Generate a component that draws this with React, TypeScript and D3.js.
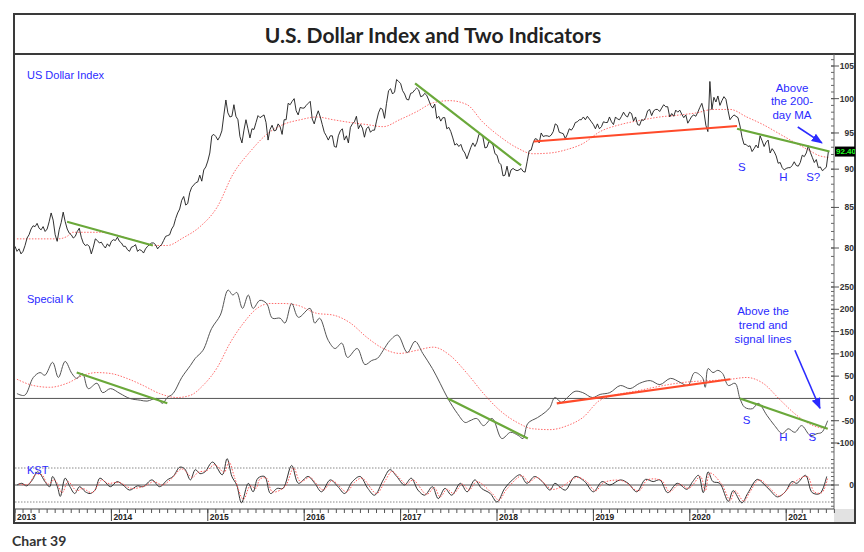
import React from 'react';
import * as d3 from 'd3';

// ---------- DATA ----------
// US Dollar Index, ~weekly (4 readings per month), starting Jan 2013
const dxy2013 = [80.2,79.6,79.9,79.3, 79.6,80.3,81.2,81.6, 82.3,82.7,82.6,83.0, 82.4,82.2,82.6,82.0, 82.3,83.2,84.3,83.4, 81.6,80.8,82.2,83.1, 84.4,83.2,82.3,81.8, 81.6,81.2,81.4,82.0, 82.4,81.3,80.6,80.3, 80.4,80.2,79.3,80.1, 81.1,80.9,80.6,80.7, 80.3,80.0,80.5,80.2];
const dxy2014 = [80.8,81.0,80.9,81.3, 80.8,80.6,80.2,80.2, 79.8,79.6,80.1,80.2, 80.4,79.6,79.8,79.7, 79.4,79.9,80.2,80.4, 80.6,80.6,80.4,79.9, 80.2,80.4,80.9,81.4, 81.5,81.6,82.3,82.7, 83.6,84.3,84.8,85.9, 86.4,85.3,85.5,86.9, 87.6,87.9,88.2,88.3, 89.2,88.4,89.9,90.3];
const dxy2015 = [91.1,92.2,94.6,94.8, 94.5,94.0,94.5,95.3, 97.6,99.8,97.9,97.3, 97.4,99.1,97.4,96.9, 94.5,93.6,95.4,96.9, 95.6,94.3,95.6,95.5, 96.5,97.5,97.2,97.4, 97.6,96.5,94.0,95.5, 96.1,95.3,95.4,96.3, 95.9,94.8,96.9,96.9, 99.3,99.1,99.6,100.0, 98.2,97.6,98.7,98.6];
const dxy2016 = [98.6,99.0,99.3,99.6, 97.0,96.3,97.4,98.2, 97.3,96.2,95.1,94.6, 94.0,94.6,94.6,93.1, 93.0,94.6,95.3,95.6, 94.0,94.6,93.6,95.8, 96.3,96.6,97.4,95.6, 96.2,95.7,94.4,95.6, 95.9,95.1,95.4,95.4, 96.7,97.9,98.6,98.4, 97.1,99.3,101.2,101.5, 100.7,101.0,102.9,102.6];
const dxy2017 = [102.3,101.2,100.7,99.9, 99.8,100.8,100.9,101.3, 101.6,101.3,100.3,100.4, 100.8,100.5,99.8,99.0, 98.6,99.2,97.1,97.4, 96.7,97.2,97.2,95.6, 95.8,95.2,94.3,93.3, 93.5,93.1,93.4,92.6, 92.2,91.4,92.2,93.0, 93.6,93.1,93.7,94.8, 94.8,94.4,92.9,93.0, 93.8,93.6,93.3,92.1];
const dxy2018 = [91.9,90.9,90.6,89.1, 89.2,90.4,89.0,89.9, 90.1,89.9,89.8,89.9, 90.1,89.7,89.6,91.0, 92.5,92.6,93.6,94.2, 94.1,93.6,95.0,94.5, 94.6,94.6,94.5,94.7, 95.2,96.3,96.1,95.1, 95.0,94.9,94.2,94.8, 95.6,95.4,95.8,96.5, 96.6,96.9,96.9,97.3, 96.9,97.4,97.0,96.6];
const dxy2019 = [96.2,95.6,96.3,95.6, 95.9,96.6,96.5,96.5, 97.3,96.6,96.2,97.3, 97.0,96.9,97.4,98.0, 97.5,97.3,98.0,97.8, 96.7,97.3,96.2,96.1, 96.9,96.8,97.2,98.2, 98.4,97.5,98.2,98.4, 98.4,98.1,98.6,99.1, 98.8,98.8,97.3,97.8, 97.4,98.3,98.0,98.3, 97.7,97.2,97.6,96.4];
const dxy2020 = [96.9,97.4,97.6,97.4, 98.0,98.7,99.3,98.1, 96.1,95.2,102.6,98.4, 100.2,99.5,100.4,99.0, 99.7,100.3,99.9,98.3, 96.9,97.3,97.6,97.4, 97.2,96.0,94.4,93.4, 93.4,93.1,93.2,92.4, 92.8,93.3,92.9,94.6, 93.9,93.1,93.7,94.0, 92.2,92.8,92.4,91.8, 90.8,90.9,90.2,89.9];
const dxy2021 = [90.1,90.2,90.2,90.5, 91.0,90.5,90.4,90.9, 91.9,91.7,92.2,93.2, 92.3,91.6,90.9,91.3, 90.2,90.3,89.8,90.0, 90.3,92.4];
const dxyStartYear = 2013;
const dxyPerYear = 48;

// 200-day moving average (decimal year, value)
const maYears = [2013.02,2013.45,2013.54,2013.60,2013.88,2014.22,2014.47,2014.58,2014.74,2014.92,2015.10,2015.26,2015.44,2015.61,2015.78,2015.96,2016.13,2016.30,2016.48,2016.65,2016.82,2016.99,2017.17,2017.34,2017.51,2017.69,2017.85,2018.03,2018.21,2018.37,2018.55,2018.73,2018.89,2019.07,2019.28,2019.48,2019.69,2019.90,2020.07,2020.24,2020.42,2020.59,2020.76,2020.94,2021.07,2021.22,2021.35,2021.44];
const maValues = [81.1,81.1,81.4,81.9,81.9,81.0,80.3,80.3,81.2,82.6,85.1,89.3,92.4,94.8,96.2,96.9,97.3,96.9,96.5,96.2,95.9,96.9,98.1,99.4,99.7,99.1,96.6,94.5,92.9,92.1,92.2,92.7,93.5,95.2,96.2,96.8,97.3,97.6,97.9,98.4,98.4,97.3,96.2,94.8,93.8,92.7,91.8,91.6];

// Special K (decimal year, value)
const skYears = [2013.02,2013.10,2013.19,2013.26,2013.31,2013.39,2013.45,2013.52,2013.59,2013.64,2013.70,2013.76,2013.85,2013.91,2013.99,2014.09,2014.19,2014.30,2014.37,2014.47,2014.53,2014.58,2014.64,2014.73,2014.82,2014.87,2014.95,2015.04,2015.13,2015.21,2015.26,2015.30,2015.36,2015.42,2015.47,2015.54,2015.61,2015.67,2015.75,2015.80,2015.87,2015.94,2016.06,2016.11,2016.16,2016.25,2016.32,2016.39,2016.45,2016.55,2016.63,2016.70,2016.76,2016.82,2016.89,2016.97,2017.07,2017.15,2017.23,2017.33,2017.41,2017.49,2017.59,2017.67,2017.72,2017.79,2017.86,2017.95,2018.05,2018.14,2018.22,2018.27,2018.32,2018.42,2018.50,2018.55,2018.60,2018.67,2018.73,2018.81,2018.89,2018.99,2019.07,2019.17,2019.28,2019.38,2019.48,2019.59,2019.69,2019.80,2019.90,2019.98,2020.05,2020.13,2020.16,2020.19,2020.24,2020.29,2020.34,2020.40,2020.47,2020.52,2020.57,2020.65,2020.71,2020.80,2020.88,2020.96,2021.02,2021.09,2021.16,2021.25,2021.32,2021.37,2021.43];
const skValues = [11,7,47,58,52,81,47,83,56,45,56,22,34,13,22,11,0,-4,-6,0,-11,2,11,47,74,90,108,157,187,243,232,238,202,232,202,220,213,180,180,169,213,182,202,169,180,130,112,124,92,112,76,85,90,108,130,142,103,128,101,67,34,0,-34,-54,-50,-45,-61,-45,-90,-76,-83,-90,-56,-43,-31,-20,2,-9,2,16,13,2,9,13,29,22,34,40,31,45,36,29,58,47,25,67,58,63,56,29,34,0,-20,-23,-11,-38,-61,-79,-68,-76,-61,-83,-79,-76,-50];
const skSignalYears = [2013.02,2013.19,2013.36,2013.54,2013.71,2013.85,2013.99,2014.16,2014.33,2014.50,2014.68,2014.82,2014.95,2015.10,2015.23,2015.37,2015.51,2015.65,2015.78,2015.93,2016.13,2016.30,2016.48,2016.65,2016.82,2016.99,2017.17,2017.34,2017.51,2017.69,2017.86,2018.03,2018.21,2018.37,2018.55,2018.73,2018.89,2019.07,2019.48,2019.90,2020.42,2020.59,2020.76,2020.94,2021.11,2021.28,2021.43];
const skSignalValues = [43,29,25,34,52,58,56,45,29,11,2,7,29,70,124,169,202,213,213,209,191,187,169,137,112,101,108,115,97,56,11,-27,-54,-68,-70,-61,-43,-4,18,35,43,47,34,-4,-38,-61,-68];

// KST (decimal year, value; dotted guides at +/-1)
const kstYears = [2013.02,2013.07,2013.12,2013.18,2013.23,2013.26,2013.31,2013.36,2013.39,2013.44,2013.47,2013.52,2013.57,2013.62,2013.67,2013.73,2013.78,2013.83,2013.88,2013.93,2013.99,2014.06,2014.12,2014.19,2014.27,2014.33,2014.42,2014.50,2014.58,2014.64,2014.71,2014.76,2014.82,2014.87,2014.92,2014.97,2015.05,2015.15,2015.20,2015.25,2015.30,2015.35,2015.42,2015.47,2015.52,2015.59,2015.65,2015.72,2015.78,2015.87,2015.94,2016.04,2016.11,2016.18,2016.27,2016.35,2016.42,2016.50,2016.58,2016.66,2016.73,2016.82,2016.89,2016.96,2017.04,2017.11,2017.18,2017.25,2017.33,2017.39,2017.46,2017.53,2017.62,2017.69,2017.77,2017.84,2017.93,2018.00,2018.08,2018.16,2018.24,2018.31,2018.39,2018.47,2018.55,2018.60,2018.65,2018.71,2018.81,2018.91,2019.00,2019.09,2019.17,2019.28,2019.36,2019.45,2019.54,2019.62,2019.69,2019.77,2019.87,2019.97,2020.03,2020.09,2020.14,2020.19,2020.24,2020.31,2020.40,2020.45,2020.54,2020.60,2020.70,2020.76,2020.83,2020.91,2020.99,2021.06,2021.11,2021.20,2021.27,2021.35,2021.42];
const kstValues = [0,0.1,-0.05,0.3,0.77,0.67,0.2,-0.1,0.5,-0.1,-0.67,0.4,-0.1,-0.5,-0.1,-0.4,-0.5,-0.3,0.4,0.2,-0.1,0.2,0,-0.3,-0.05,-0.1,0.3,-0.1,0.3,0.5,1.05,0.95,0.3,0.9,0.67,0.77,1.35,0.6,1.55,0.5,0,-1.05,0.1,-0.4,0.4,0.5,-0.5,-0.2,-0.2,1.15,0.1,0.5,0.1,-0.4,0.3,-0.1,-0.5,0.2,0.5,-0.2,-0.6,0.3,0.9,0.5,0,0.4,-0.3,-0.6,-0.1,-0.8,-0.2,-0.6,0.1,-0.4,0.3,-0.2,-0.5,-1.0,-0.2,0.3,0.6,0.1,0.5,0.2,-0.3,0.1,-0.1,-0.3,0.5,0.2,-0.4,0.2,0,0.3,0.1,-0.4,0.33,0.2,0.3,-0.45,0.1,-0.25,0.2,0.57,-0.45,0.77,0.2,0.1,-0.96,-0.33,-1.05,-0.5,0.33,0.1,-0.3,-0.7,-0.4,0.2,0.1,0.57,-0.45,-0.5,0.5];
const kstSignalYears = [2013.04,2013.14,2013.21,2013.28,2013.34,2013.41,2013.49,2013.55,2013.64,2013.70,2013.80,2013.90,2013.96,2014.08,2014.21,2014.35,2014.44,2014.53,2014.62,2014.73,2014.84,2014.90,2014.99,2015.07,2015.17,2015.22,2015.28,2015.37,2015.44,2015.50,2015.54,2015.61,2015.67,2015.80,2015.89,2015.96,2016.06,2016.13,2016.20,2016.29,2016.44,2016.52,2016.60,2016.75,2016.84,2016.91,2016.98,2017.06,2017.13,2017.27,2017.35,2017.41,2017.48,2017.55,2017.64,2017.71,2017.79,2017.95,2018.02,2018.10,2018.26,2018.33,2018.41,2018.57,2018.67,2018.83,2018.93,2019.02,2019.11,2019.30,2019.47,2019.56,2019.71,2019.79,2019.89,2019.99,2020.11,2020.16,2020.21,2020.33,2020.42,2020.47,2020.56,2020.62,2020.72,2020.85,2020.93,2021.08,2021.22,2021.29,2021.37,2021.43];
const kstSignalValues = [0.05,0.05,0.6,0.6,0.05,0.3,-0.45,0.2,-0.35,-0.2,-0.45,0.3,0.1,0.15,-0.2,-0.05,0.2,0,0.35,0.95,0.45,0.75,0.85,1.2,0.75,1.35,0.4,-0.85,-0.05,-0.2,0.35,0.4,-0.4,-0.1,1.0,0.2,0.45,0.05,-0.3,0.25,-0.4,0.15,0.4,-0.5,0.25,0.8,0.45,0.05,0.3,-0.55,-0.15,-0.7,-0.25,-0.5,0.05,-0.3,0.2,-0.5,-0.9,-0.25,0.55,0.15,0.45,-0.25,-0.1,0.45,0.2,-0.35,0.15,0.25,-0.35,0.3,0.25,-0.4,0.05,-0.2,0.5,-0.35,0.7,0.05,-0.9,-0.35,-0.95,-0.45,0.3,-0.3,-0.65,0.15,0.5,-0.4,-0.45,0.4];

// Trend lines: [year, value] endpoints
const dxyGreenLines = [[[2013.54, 83.2], [2014.43, 80.3]], [[2017.15, 102.3], [2018.25, 90.5]], [[2020.49, 95.6], [2021.45, 92.4]]];
const dxyRedLines = [[[2018.38, 93.8], [2020.49, 96.0]]];
const skGreenLines = [[[2013.64, 58], [2014.58, -11]], [[2017.49, 0], [2018.32, -90]], [[2020.52, 0], [2021.43, -68]]];
const skRedLines = [[[2018.62, -11], [2020.42, 43]]];

// Axis ticks
const yearTicks = [2013, 2014, 2015, 2016, 2017, 2018, 2019, 2020, 2021];
const dxyTicks = [80, 85, 90, 95, 100, 105];
const skTicks = [-100, -50, 0, 50, 100, 150, 200, 250];
const kstTicks = [0];

// Annotations [year, value, text]
const dxyNote = { year: 2021.06, value: 101.0, lines: ['Above', 'the 200-', 'day MA'] };
const dxyArrow = [[2021.12, 95.85], [2021.37, 93.6]];
const dxyLetters: [number, number, string][] = [[2020.54, 90.3, 'S'], [2020.97, 88.95, 'H'], [2021.28, 88.95, 'S?']];
const skNote = { year: 2020.76, value: 187, lines: ['Above the', 'trend and', 'signal lines'] };
const skArrow = [[2021.09, 108], [2021.35, -22]];
const skLetters: [number, number, string][] = [[2020.59, -48, 'S'], [2020.97, -86, 'H'], [2021.27, -86, 'S']];

const title = 'U.S. Dollar Index and Two Indicators';
const caption = 'Chart 39';

// ---------- LAYOUT ----------
const PL = 15, PR = 834;
const P1 = { top: 54, bottom: 284 };
const P2 = { top: 284, bottom: 458 };
const P3 = { top: 458, bottom: 509 };
const BLUE = '#2b2bff';
const AXF = 'Liberation Sans, Arial, sans-serif';

export default function App() {
  const dxy = [dxy2013, dxy2014, dxy2015, dxy2016, dxy2017, dxy2018, dxy2019, dxy2020, dxy2021].flat();
  const dxyPts: [number, number][] = dxy.map((v, i) => [dxyStartYear + i / dxyPerYear, v]);
  const maPts: [number, number][] = maYears.map((t, i) => [t, maValues[i]]);
  const skPts: [number, number][] = skYears.map((t, i) => [t, skValues[i]]);
  const skSig: [number, number][] = skSignalYears.map((t, i) => [t, skSignalValues[i]]);
  const kstPts: [number, number][] = kstYears.map((t, i) => [t, kstValues[i]]);
  const kstSig: [number, number][] = kstSignalYears.map((t, i) => [t, kstSignalValues[i]]);

  const x = d3.scaleLinear().domain([2013, 2021.5]).range([PL, 834.4]);
  const y1 = d3.scaleLog().domain([80, 105]).range([248, 66]);
  const y2 = d3.scaleLinear().domain([-100, 250]).range([443, 287]);
  const y3 = d3.scaleLinear().domain([-1, 1]).range([502, 468]);

  const mk = (ys: any, curve?: any) => {
    const l = d3.line<[number, number]>().x(d => x(d[0])).y(d => ys(d[1]));
    if (curve) l.curve(curve);
    return l;
  };
  const l1 = mk(y1);
  const l1s = mk(y1, d3.curveMonotoneX);
  const l2 = mk(y2, d3.curveCatmullRom);
  const l2s = mk(y2, d3.curveMonotoneX);
  const l2t = mk(y2);
  const l3 = mk(y3, d3.curveCatmullRom);

  const last = dxy[dxy.length - 1];
  const months = d3.range(0, 8.5 * 12 + 1).map(m => 2013 + m / 12);

  const rightTicks = (ys: any, major: number[], minor: number[], top: number, bottom: number, fmt: (v: number) => string, key: string) => (
    <g key={key}>
      {minor.map(v => {
        const yy = ys(v);
        if (yy < top + 1 || yy > bottom - 1) return null;
        return <line key={'m' + v} x1={PR - 3} x2={PR} y1={yy} y2={yy} stroke="#666" strokeWidth={1} />;
      })}
      {major.map(v => (
        <g key={'M' + v}>
          <line x1={PR - 3} x2={PR + 5} y1={ys(v)} y2={ys(v)} stroke="#555" strokeWidth={1} />
          <text x={854} y={ys(v)} dy="0.35em" textAnchor="end" fontFamily={AXF} fontSize={8.5} fontWeight="bold" fill="#333">{fmt(v)}</text>
        </g>
      ))}
    </g>
  );

  return (
    <svg width={864} height={552} style={{ position: 'absolute', left: 0, top: 0, background: '#fff' }} xmlns="http://www.w3.org/2000/svg">
      <defs>
        <clipPath id="c1"><rect x={PL} y={P1.top} width={PR - PL} height={P1.bottom - P1.top} /></clipPath>
        <clipPath id="c2"><rect x={PL} y={P2.top} width={PR - PL} height={P2.bottom - P2.top} /></clipPath>
        <clipPath id="c3"><rect x={PL} y={P3.top} width={PR - PL} height={P3.bottom - P3.top} /></clipPath>
        <clipPath id="cl"><rect x={835} y={100} width={20} height={100} /></clipPath>
        <marker id="arr" viewBox="0 0 10 10" refX={9} refY={5} markerWidth={7} markerHeight={7} orient="auto">
          <path d="M0,1 L10,5 L0,9 z" fill={BLUE} />
        </marker>
      </defs>

      {/* frame */}
      <rect x={14} y={14} width={841} height={40} fill="#fff" stroke="#3a3a3a" strokeWidth={2} />
      <text x={433} y={43} textAnchor="middle" fontFamily="Lato, sans-serif" fontWeight="bold" fontSize={21} fill="#222">{title}</text>
      <rect x={834} y={P3.bottom} width={21} height={14} fill="#e2e2e2" />
      <rect x={14} y={54} width={841} height={469} fill="none" stroke="#3a3a3a" strokeWidth={2} />

      {/* panel 1: DXY */}
      <g clipPath="url(#c1)">
        <path d={l1s(maPts) || ''} fill="none" stroke="#ff6b6b" strokeWidth={1} strokeDasharray="1.5,1.5" />
        <path d={l1(dxyPts) || ''} fill="none" stroke="#1a1a1a" strokeWidth={0.9} />
        {dxyGreenLines.map((ln, i) => <path key={'g' + i} d={l1(ln as any) || ''} stroke="#6aa83a" strokeWidth={2.2} fill="none" />)}
        {dxyRedLines.map((ln, i) => <path key={'r' + i} d={l1(ln as any) || ''} stroke="#ff4a2a" strokeWidth={2.2} fill="none" />)}
      </g>
      <text x={27} y={79} fontFamily={AXF} fontSize={11} fill={BLUE}>US Dollar Index</text>
      <text x={x(dxyNote.year)} y={y1(dxyNote.value)} textAnchor="middle" fontFamily={AXF} fontSize={11.5} fill={BLUE}>
        {dxyNote.lines.map((s, i) => <tspan key={i} x={x(dxyNote.year)} dy={i === 0 ? 0 : 13.5}>{s}</tspan>)}
      </text>
      <line x1={x(dxyArrow[0][0])} y1={y1(dxyArrow[0][1])} x2={x(dxyArrow[1][0])} y2={y1(dxyArrow[1][1])} stroke={BLUE} strokeWidth={1.6} markerEnd="url(#arr)" />
      {dxyLetters.map(([t, v, s], i) => <text key={i} x={x(t)} y={y1(v)} dy="0.35em" textAnchor="middle" fontFamily={AXF} fontSize={11.5} fill={BLUE}>{s}</text>)}

      {/* panel 2: Special K */}
      <line x1={PL} x2={PR} y1={y2(0)} y2={y2(0)} stroke="#555" strokeWidth={1} />
      <g clipPath="url(#c2)">
        <path d={l2s(skSig) || ''} fill="none" stroke="#ff6b6b" strokeWidth={1} strokeDasharray="1.5,1.5" />
        <path d={l2(skPts) || ''} fill="none" stroke="#555" strokeWidth={1} />
        {skGreenLines.map((ln, i) => <path key={'g' + i} d={l2t(ln as any) || ''} stroke="#6aa83a" strokeWidth={2.2} fill="none" />)}
        {skRedLines.map((ln, i) => <path key={'r' + i} d={l2t(ln as any) || ''} stroke="#ff4a2a" strokeWidth={2.2} fill="none" />)}
      </g>
      <text x={27} y={303} fontFamily={AXF} fontSize={11} fill={BLUE}>Special K</text>
      <text x={x(skNote.year)} y={y2(skNote.value)} textAnchor="middle" fontFamily={AXF} fontSize={11.5} fill={BLUE}>
        {skNote.lines.map((s, i) => <tspan key={i} x={x(skNote.year)} dy={i === 0 ? 0 : 14}>{s}</tspan>)}
      </text>
      <line x1={x(skArrow[0][0])} y1={y2(skArrow[0][1])} x2={x(skArrow[1][0])} y2={y2(skArrow[1][1])} stroke={BLUE} strokeWidth={1.6} markerEnd="url(#arr)" />
      {skLetters.map(([t, v, s], i) => <text key={i} x={x(t)} y={y2(v)} dy="0.35em" textAnchor="middle" fontFamily={AXF} fontSize={11.5} fill={BLUE}>{s}</text>)}

      {/* panel 3: KST */}
      <line x1={PL} x2={PR} y1={y3(0)} y2={y3(0)} stroke="#555" strokeWidth={1} />
      <line x1={PL} x2={PR} y1={y3(1)} y2={y3(1)} stroke="#888" strokeWidth={1} strokeDasharray="1.5,1.5" />
      <line x1={PL} x2={PR} y1={y3(-1)} y2={y3(-1)} stroke="#888" strokeWidth={1} strokeDasharray="1.5,1.5" />
      <g clipPath="url(#c3)">
        <path d={l3(kstPts) || ''} fill="none" stroke="#333" strokeWidth={1} />
        <path d={l3(kstSig) || ''} fill="none" stroke="#ff5a5a" strokeWidth={1} strokeDasharray="1.5,1.5" />
      </g>
      <text x={27} y={474} fontFamily={AXF} fontSize={11} fill={BLUE}>KST</text>

      {/* right axis */}
      <line x1={PR} x2={PR} y1={54} y2={P3.bottom} stroke="#666" strokeWidth={1} />
      {rightTicks(y1, dxyTicks, d3.range(76, 108, 1), P1.top, P1.bottom, v => String(v), 'a1')}
      {rightTicks(y2, skTicks, d3.range(-120, 260, 10), P2.top, P2.bottom, v => String(v), 'a2')}
      {rightTicks(y3, kstTicks, d3.range(-1.5, 1.6, 0.25), P3.top, P3.bottom, v => String(v), 'a3')}
      <g clipPath="url(#cl)">
        <rect x={835} y={y1(last) - 5} width={22} height={10} fill="#000" />
        <text x={836} y={y1(last)} dy="0.35em" fontFamily={AXF} fontSize={8} fontWeight="bold" fill="#22ff22">{last.toFixed(3)}</text>
      </g>

      {/* x axis */}
      <line x1={PL} x2={PR} y1={P3.bottom} y2={P3.bottom} stroke="#444" strokeWidth={1} />
      {months.map((m, i) => <line key={i} x1={x(m)} x2={x(m)} y1={P3.bottom} y2={P3.bottom + 4} stroke="#555" strokeWidth={1} />)}
      {yearTicks.map(yr => (
        <g key={yr}>
          <line x1={x(yr)} x2={x(yr)} y1={P3.bottom} y2={521} stroke="#444" strokeWidth={1} />
          <text x={x(yr) + 2} y={520} fontFamily={AXF} fontSize={8.5} fontWeight="bold" fill="#222">{yr}</text>
        </g>
      ))}

      <text x={12} y={546} fontFamily="Lato, sans-serif" fontWeight="bold" fontSize={14} fill="#333">{caption}</text>
    </svg>
  );
}
